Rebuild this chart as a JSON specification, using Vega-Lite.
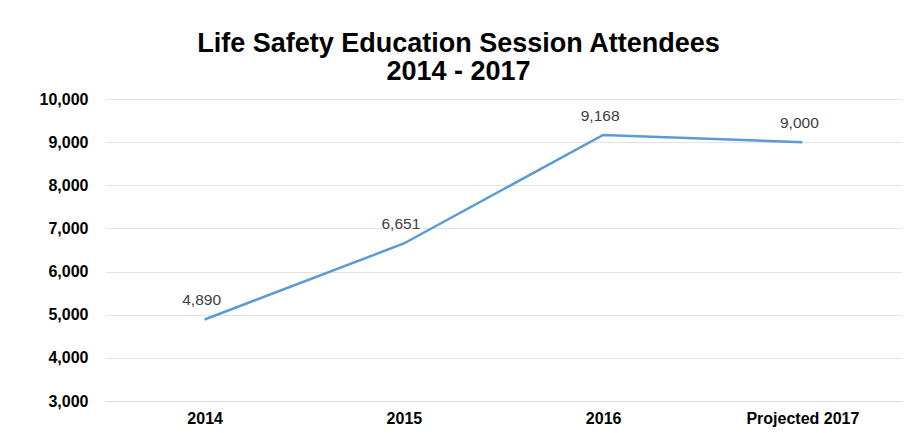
{
  "$schema": "https://vega.github.io/schema/vega-lite/v6.json",
  "width": 797,
  "height": 302,
  "autosize": "none",
  "padding": {"left": 105, "top": 99, "right": 18, "bottom": 32},
  "background": "white",
  "title": {
    "text": ["Life Safety Education Session Attendees", "2014 - 2017"],
    "font": "Liberation Sans",
    "fontSize": 27,
    "fontWeight": "bold",
    "color": "#000000",
    "anchor": "middle",
    "dx": -45,
    "offset": 5,
    "lineHeight": 28
  },
  "data": {
    "values": [
      {"year": "2014", "attendees": 4890},
      {"year": "2015", "attendees": 6651},
      {"year": "2016", "attendees": 9168},
      {"year": "Projected 2017", "attendees": 9000}
    ]
  },
  "encoding": {
    "x": {
      "field": "year", "type": "ordinal", "sort": null,
      "scale": {"paddingInner": 0, "paddingOuter": 0},
      "axis": {"title": null, "labelAngle": 0, "domain": true, "domainColor": "#d9d9d9", "ticks": false,
               "labelFont": "Liberation Sans", "labelFontSize": 16, "labelFontWeight": "bold", "labelColor": "#000000", "labelPadding": 9, "grid": false}
    },
    "y": {
      "field": "attendees", "type": "quantitative",
      "scale": {"domain": [3000, 10000], "nice": false, "zero": false},
      "axis": {"title": null, "values": [3000,4000,5000,6000,7000,8000,9000,10000], "format": ",d", "domain": false, "ticks": false,
               "labelFont": "Liberation Sans", "labelFontSize": 16, "labelFontWeight": "bold", "labelColor": "#000000", "labelPadding": 17,
               "gridColor": "#e3e3e3", "gridWidth": 1}
    }
  },
  "layer": [
    {"mark": {"type": "line", "color": "#5b9bd5", "strokeWidth": 2.5}},
    {"mark": {"type": "text", "dy": -19, "dx": -3, "font": "Liberation Sans", "fontSize": 15.5, "color": "#404040"},
     "encoding": {"text": {"field": "attendees", "type": "quantitative", "format": ",d"}}}
  ],
  "config": {"view": {"stroke": null}}
}
